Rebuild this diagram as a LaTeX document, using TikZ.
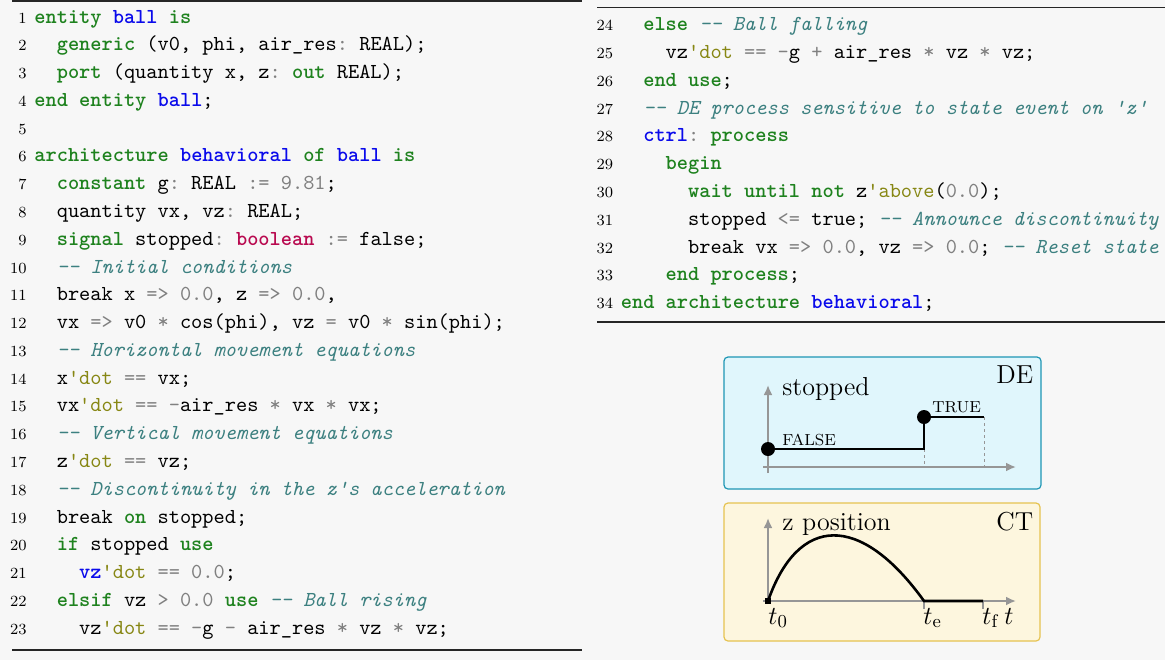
\documentclass[tikz,border=0pt]{standalone}
\usepackage{fix-cm}
\usetikzlibrary{arrows.meta}
\definecolor{bgc}{RGB}{247,247,247}
\definecolor{kwgreen}{RGB}{30,130,30}
\definecolor{idblue}{RGB}{10,10,235}
\definecolor{tyred}{RGB}{185,10,80}
\definecolor{opgray}{RGB}{128,128,128}
\definecolor{atolive}{RGB}{135,135,20}
\definecolor{cmteal}{RGB}{60,128,128}
\definecolor{defill}{RGB}{224,246,252}
\definecolor{deline}{RGB}{30,150,180}
\definecolor{ctfill}{RGB}{253,246,222}
\definecolor{ctline}{RGB}{230,195,80}
\definecolor{axgray}{RGB}{150,150,150}
\newcommand\vkw[1]{\textcolor{kwgreen}{\bfseries #1}}
\newcommand\vid[1]{\textcolor{idblue}{\bfseries #1}}
\newcommand\vty[1]{\textcolor{tyred}{\bfseries #1}}
\newcommand\vop[1]{\textcolor{opgray}{#1}}
\newcommand\vat[1]{\textcolor{atolive}{#1}}
\newcommand\vcm[1]{\textcolor{cmteal}{\itshape #1}}
\newcommand\vq{\textquotesingle}
\newcommand\codeln[5]{%
  \node[numst] (n#1) at ({#2-7},#3) {#1};
  \node[codest] (c#1) at ({#2+#4*11.2},#3) {#5};}
\begin{document}
\begin{tikzpicture}[x=0.5pt,y=-0.5pt,
  numst/.style={anchor=base east,inner sep=0pt,font=\fontsize{7.75}{9}\selectfont\rmfamily},
  codest/.style={anchor=base west,inner sep=0pt,font=\fontsize{10.67}{12}\selectfont\ttfamily\frenchspacing},
  rulest/.style={draw=black!85,line width=0.6pt},
  axis/.style={draw=axgray,line width=1pt,-{Latex[length=5pt,width=4.5pt]}},
  sig/.style={draw=black,line width=1.3pt},
  dashst/.style={draw=axgray,line width=0.5pt,dash pattern=on 1.5pt off 1.5pt},
  tick/.style={draw=axgray,line width=0.8pt},
  big/.style={inner sep=0pt,anchor=base west,font=\fontsize{13}{15}\selectfont},
  small/.style={inner sep=0pt,anchor=base west,font=\fontsize{8}{9.6}\selectfont},
  tlab/.style={inner sep=0pt,anchor=base west,font=\fontsize{13}{15}\selectfont}]
\useasboundingbox (0,0) rectangle (1165,660);
\fill[bgc] (0,0) rectangle (1165,660);
% rules
\draw[rulest] (12,1) -- (582,1);
\draw[rulest] (12,650) -- (582,650);
\draw[rulest] (597,7.5) -- (1165,7.5);
\draw[rulest] (597,322) -- (1165,322);
% left code
\codeln{1}{34}{23.0}{0}{\vkw{entity} \vid{ball} \vkw{is}}
\codeln{2}{34}{50.78}{2}{\vkw{generic} (v0, phi, air\_res\vop{:} REAL);}
\codeln{3}{34}{78.56}{2}{\vkw{port} (quantity x, z\vop{:} \vkw{out} REAL);}
\codeln{4}{34}{106.34}{0}{\vkw{end} \vkw{entity} \vid{ball};}
\node[numst] (n5) at (27,134.12) {5};
\codeln{6}{34}{161.9}{0}{\vkw{architecture} \vid{behavioral} \vkw{of} \vid{ball} \vkw{is}}
\codeln{7}{34}{189.68}{2}{\vkw{constant} g\vop{:} REAL \vop{:=} \vop{9.81};}
\codeln{8}{34}{217.46}{2}{quantity vx, vz\vop{:} REAL;}
\codeln{9}{34}{245.24}{2}{\vkw{signal} stopped\vop{:} \vty{boolean} \vop{:=} false;}
\codeln{10}{34}{273.02}{2}{\vcm{-{}- Initial conditions}}
\codeln{11}{34}{300.8}{2}{break x \vop{=>} \vop{0.0}, z \vop{=>} \vop{0.0},}
\codeln{12}{34}{328.58}{2}{vx \vop{=>} v0 \vop{*} cos(phi), vz \vop{=} v0 \vop{*} sin(phi);}
\codeln{13}{34}{356.36}{2}{\vcm{-{}- Horizontal movement equations}}
\codeln{14}{34}{384.14}{2}{x\vat{\vq dot} \vop{==} vx;}
\codeln{15}{34}{411.92}{2}{vx\vat{\vq dot} \vop{==} \vop{-}air\_res \vop{*} vx \vop{*} vx;}
\codeln{16}{34}{439.7}{2}{\vcm{-{}- Vertical movement equations}}
\codeln{17}{34}{467.48}{2}{z\vat{\vq dot} \vop{==} vz;}
\codeln{18}{34}{495.26}{2}{\vcm{-{}- Discontinuity in the z\vq s acceleration}}
\codeln{19}{34}{523.04}{2}{break \vkw{on} stopped;}
\codeln{20}{34}{550.82}{2}{\vkw{if} stopped \vkw{use}}
\codeln{21}{34}{578.6}{4}{\vid{vz}\vat{\vq dot} \vop{==} \vop{0.0};}
\codeln{22}{34}{606.38}{2}{\vkw{elsif} vz \vop{>} \vop{0.0} \vkw{use} \vcm{-{}- Ball rising}}
\codeln{23}{34}{634.16}{4}{vz\vat{\vq dot} \vop{==} \vop{-}g \vop{-} air\_res \vop{*} vz \vop{*} vz;}
% right code
\codeln{24}{620.5}{30.7}{2}{\vkw{else} \vcm{-{}- Ball falling}}
\codeln{25}{620.5}{58.5}{4}{vz\vat{\vq dot} \vop{==} \vop{-}g \vop{+} air\_res \vop{*} vz \vop{*} vz;}
\codeln{26}{620.5}{86.3}{2}{\vkw{end} \vkw{use};}
\codeln{27}{620.5}{114.1}{2}{\vcm{-{}- DE process sensitive to state event on \vq z\vq}}
\codeln{28}{620.5}{141.9}{2}{\vid{ctrl}\vop{:} \vkw{process}}
\codeln{29}{620.5}{169.7}{4}{\vkw{begin}}
\codeln{30}{620.5}{197.5}{6}{\vkw{wait} \vkw{until} \vkw{not} z\vat{\vq above}(\vop{0.0});}
\codeln{31}{620.5}{225.3}{6}{stopped \vop{<=} true; \vcm{-{}- Announce discontinuity}}
\codeln{32}{620.5}{253.1}{6}{break vx \vop{=>} \vop{0.0}, vz \vop{=>} \vop{0.0}; \vcm{-{}- Reset state}}
\codeln{33}{620.5}{280.9}{4}{\vkw{end} \vkw{process};}
\codeln{34}{620.5}{308.7}{0}{\vkw{end} \vkw{architecture} \vid{behavioral};}
% DE box
\draw[draw=deline,fill=defill,line width=0.6pt,rounded corners=2pt] (724,357) rectangle (1041,489);
\coordinate (dey0) at (768,473);
\coordinate (dey1) at (768,385);
\coordinate (dex0) at (763,467);
\coordinate (dex1) at (1016,467);
\draw[axis] (dey0) -- (dey1);
\draw[axis] (dex0) -- (dex1);
\coordinate (f0) at (768,449);
\coordinate (f1) at (924,449);
\coordinate (t1) at (924,417);
\coordinate (t2) at (984,417);
\coordinate (b1) at (924,467);
\coordinate (b2) at (984,467);
\draw[dashst] (f1) -- (b1);
\draw[dashst] (t2) -- (b2);
\draw[sig] (f0) -- (f1) -- (t1) -- (t2);
\fill (f0) circle[radius=3.5pt];
\fill (t1) circle[radius=3.5pt];
\node[big] (stp) at (782,395) {stopped};
\node[big] (de) at (996,383) {DE};
\node[small] (fl) at (782,445) {FALSE};
\node[small] (tr) at (932,412) {TRUE};
% CT box
\draw[draw=ctline,fill=ctfill,line width=0.6pt,rounded corners=2pt] (724,503) rectangle (1040,641);
\coordinate (cty0) at (768,604);
\coordinate (cty1) at (768,518);
\coordinate (ctx0) at (763,601);
\coordinate (ctx1) at (1016,601);
\draw[axis] (cty0) -- (cty1);
\draw[axis] (ctx0) -- (ctx1);
\coordinate (z0) at (768,601);
\coordinate (ze) at (924,601);
\coordinate (zf) at (983,601);
\coordinate (ke) at (924,609);
\coordinate (kf) at (983,609);
\draw[tick] (ze) -- (ke);
\draw[tick] (zf) -- (kf);
\draw[sig] (z0) .. controls (798,515) and (860,512) .. (ze) -- (zf);
\fill (765,598) rectangle (771,604);
\node[big] (zp) at (782,530) {z position};
\node[big] (ct) at (996,530) {CT};
\node[tlab] (l0) at (768,624) {$t_0$};
\node[tlab] (le) at (923,624) {$t_\mathrm{e}$};
\node[tlab] (lf) at (982,624) {$t_\mathrm{f}$};
\node[tlab] (lt) at (1004,624) {$t$};
\end{tikzpicture}
\end{document}
